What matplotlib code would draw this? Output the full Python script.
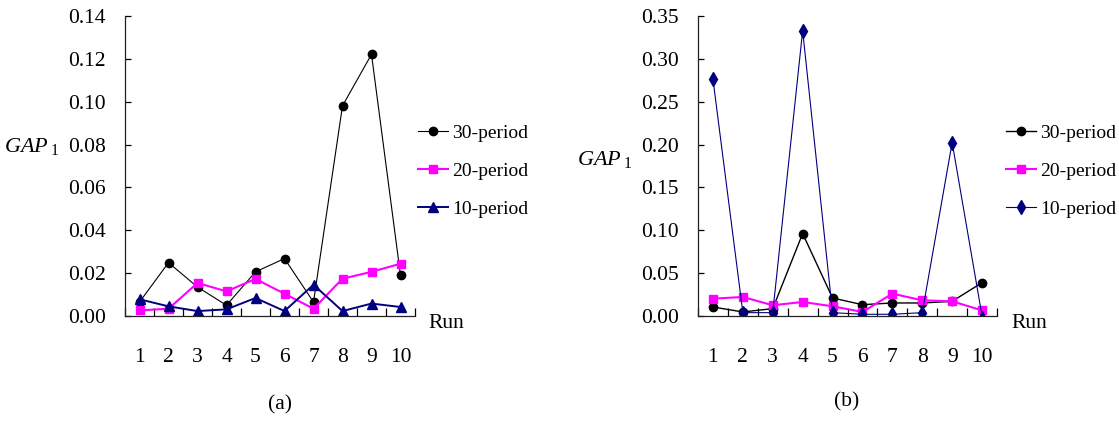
import numpy as np
import matplotlib.pyplot as plt

plt.rcParams['font.family'] = 'Liberation Serif'
plt.rcParams['mathtext.fontset'] = 'custom'
plt.rcParams['mathtext.it'] = 'Liberation Serif:italic'
plt.rcParams['mathtext.rm'] = 'Liberation Serif'

runs = np.arange(1, 11)
run_labels = [str(r) for r in runs]

# panel (a)
a_30 = [0.0065, 0.0249, 0.0135, 0.0050, 0.0206, 0.0268, 0.0065, 0.0981, 0.1221, 0.0190]
a_20 = [0.0026, 0.0034, 0.0154, 0.0115, 0.0173, 0.0104, 0.0034, 0.0174, 0.0206, 0.0244]
a_10 = [0.0078, 0.0045, 0.0023, 0.0031, 0.0084, 0.0023, 0.0146, 0.0023, 0.0058, 0.0042]

# panel (b)
b_30 = [0.0105, 0.0047, 0.0086, 0.0962, 0.0210, 0.0132, 0.0152, 0.0152, 0.0171, 0.0389]
b_20 = [0.0202, 0.0222, 0.0125, 0.0164, 0.0113, 0.0047, 0.0261, 0.0183, 0.0171, 0.0066]
b_10 = [0.2764, 0.0039, 0.0039, 0.3329, 0.0039, 0.0020, 0.0020, 0.0039, 0.2024, 0.0000]

series_names = ['30-period', '20-period', '10-period']
fs = 15.5

fig = plt.figure(figsize=(11.19, 4.23), dpi=100)
ax1 = fig.add_axes([125/1119, 1-316/423, 290/1119, 300/423])
ax2 = fig.add_axes([698/1119, 1-316/423, 299/1119, 300/423])


def style_axis(ax, ymax, ystep):
    ax.set_xlim(0.5, 10.5)
    ax.set_ylim(0, ymax)
    for s in ['top', 'right']:
        ax.spines[s].set_visible(False)
    for s in ['left', 'bottom']:
        ax.spines[s].set_linewidth(0.9)
        ax.spines[s].set_color('#222222')
    ax.set_xticks(np.arange(0.5, 11, 1))
    ax.set_xticklabels([])
    ax.set_xticks(runs, minor=True)
    ax.set_xticklabels(run_labels, minor=True, fontsize=fs)
    ax.tick_params(axis='x', which='major', direction='in', length=6, width=0.9)
    ax.tick_params(axis='x', which='minor', length=0, pad=23)
    yt = np.arange(0, ymax + ystep/2, ystep)
    ax.set_yticks(yt)
    ax.set_yticklabels(['%.2f' % v for v in yt], fontsize=fs)
    ax.tick_params(axis='y', direction='in', length=4.5, width=0.9, pad=14)
    ax.text(1.048, -0.025, 'Run', transform=ax.transAxes, ha='left', va='center', fontsize=fs)


# (a)
ax1.plot(runs, a_30, color='black', lw=0.8, marker='o', ms=6, label=series_names[0])
ax1.plot(runs, a_20, color='#FF00FF', lw=1.5, marker='s', ms=6, label=series_names[1])
ax1.plot(runs, a_10, color='#000080', lw=1.4, marker='^', ms=6.5, label=series_names[2])
style_axis(ax1, 0.14, 0.02)

# (b)
ax2.plot(runs, b_30, color='black', lw=1.0, marker='o', ms=6, label=series_names[0])
ax2.plot(runs, b_20, color='#FF00FF', lw=1.5, marker='s', ms=6, label=series_names[1])
ax2.plot(runs, b_10, color='#000080', lw=0.8, marker='d', ms=7, markevery=list(range(9)),
         label=series_names[2])
ax2.plot(runs[-1:], b_10[-1:], color='#000080', ls='none', marker='^', ms=6.5)
style_axis(ax2, 0.35, 0.05)

for ax, lx in [(ax1, 418/1119), (ax2, 1006/1119)]:
    ax.legend(loc='center left', bbox_to_anchor=(lx, 1-171/423), bbox_transform=fig.transFigure,
              frameon=False, fontsize=14, handlelength=1.55, handletextpad=0.2,
              labelspacing=1.05, borderpad=0, borderaxespad=0)

gap_label = r'$GAP_{\ \mathit{1}}$'
fig.text(32/1119, 1-146/423, gap_label, fontsize=16, ha='center', va='center')
fig.text(605/1119, 1-159/423, gap_label, fontsize=16, ha='center', va='center')
fig.text(280/1119, 1-405/423, '(a)', fontsize=fs, ha='center', va='center')
fig.text(847/1119, 1-402/423, '(b)', fontsize=fs, ha='center', va='center')

fig.savefig('out.png', dpi=100)
